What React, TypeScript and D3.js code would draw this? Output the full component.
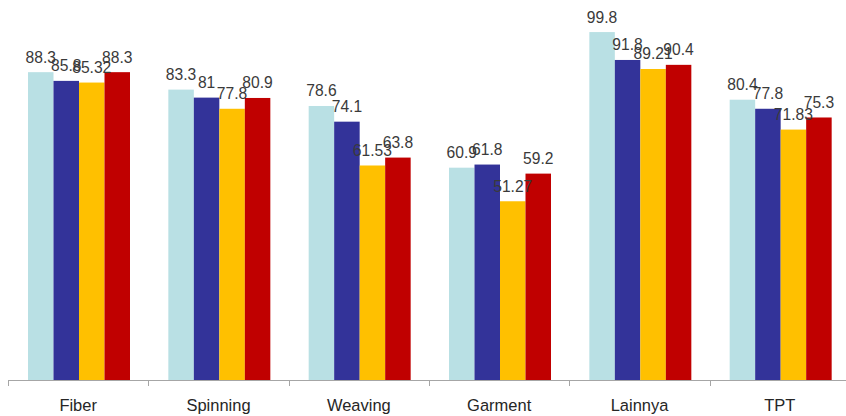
import React from "react";
import * as d3 from "d3";

const categories = ["Fiber", "Spinning", "Weaving", "Garment", "Lainnya", "TPT"];
const seriesNames = ["S1", "S2", "S3", "S4"];
const series1 = [88.3, 83.3, 78.6, 60.9, 99.8, 80.4];
const series2 = [85.8, 81, 74.1, 61.8, 91.8, 77.8];
const series3 = [85.32, 77.8, 61.53, 51.27, 89.21, 71.83];
const series4 = [88.3, 80.9, 63.8, 59.2, 90.4, 75.3];
const seriesValues = [series1, series2, series3, series4];
const colors = ["#B9E0E4", "#333399", "#FFC000", "#C00000"];

const W = 846;
const H = 416;

export default function App() {
  const x = d3.scaleBand<string>().domain(categories).range([8, 850]).padding(0);
  const step = x.step();
  const xi = d3.scaleBand<string>().domain(seriesNames).range([20, 122]).padding(0);
  const y = d3.scaleLinear().domain([0, 109]).range([380, 0]);
  const bw = xi.bandwidth();

  return (
    <svg
      width={W}
      height={H}
      style={{ position: "absolute", left: 0, top: 0, background: "#fff" }}
      fontFamily="'Liberation Sans', Arial, sans-serif"
    >
      {categories.map((c, ci) => (
        <g key={c}>
          {seriesValues.map((vals, si) => {
            const bx = (x(c) as number) + (xi(seriesNames[si]) as number);
            const v = vals[ci];
            return (
              <rect
                key={si}
                x={bx}
                y={y(v)}
                width={bw}
                height={y(0) - y(v)}
                fill={colors[si]}
              />
            );
          })}
        </g>
      ))}
      {categories.map((c, ci) => (
        <g key={"l" + c}>
          {seriesValues.map((vals, si) => {
            const cx = (x(c) as number) + (xi(seriesNames[si]) as number) + bw / 2;
            const v = vals[ci];
            return (
              <text
                key={si}
                transform={`translate(${cx},${y(v) - 9.5}) scale(0.92,1)`}
                textAnchor="middle"
                fontSize={17}
                fill="#3a3a3a"
              >
                {String(v)}
              </text>
            );
          })}
        </g>
      ))}
      <line x1={8} x2={850} y1={380.5} y2={380.5} stroke="#A6A6A6" strokeWidth={1} />
      {categories.map((c) => (
        <line
          key={"t" + c}
          x1={Math.round(x(c) as number) + 0.5}
          x2={Math.round(x(c) as number) + 0.5}
          y1={380}
          y2={386}
          stroke="#A6A6A6"
          strokeWidth={1}
        />
      ))}
      {categories.map((c) => (
        <text
          key={"x" + c}
          transform={`translate(${(x(c) as number) + step / 2},${411}) scale(0.97,1)`}
          textAnchor="middle"
          fontSize={17}
          fill="#262626"
        >
          {c}
        </text>
      ))}
    </svg>
  );
}
